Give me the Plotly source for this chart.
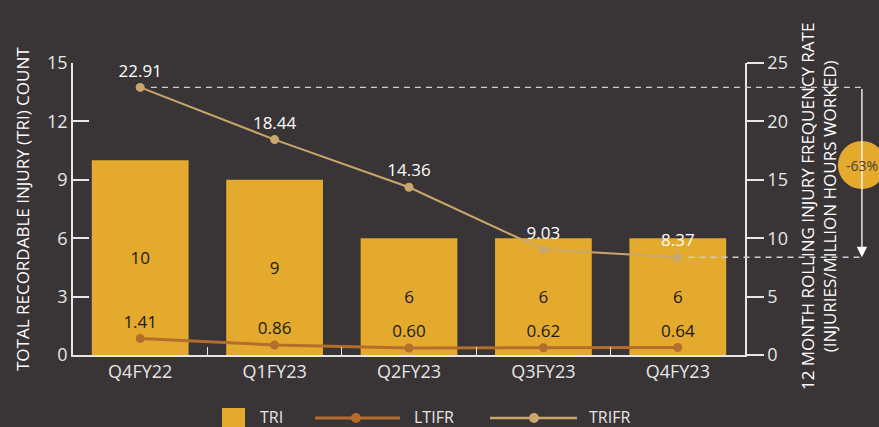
import plotly.graph_objects as go

categories = ["Q4FY22", "Q1FY23", "Q2FY23", "Q3FY23", "Q4FY23"]
tri = [10, 9, 6, 6, 6]
ltifr = [1.41, 0.86, 0.60, 0.62, 0.64]
trifr = [22.91, 18.44, 14.36, 9.03, 8.37]
left_ticks = [0, 3, 6, 9, 12, 15]
right_ticks = [0, 5, 10, 15, 20, 25]
series_names = ["TRI", "LTIFR", "TRIFR"]
change_label = "-63%"

BG = "#393536"
BAR = "#E4AA2D"
TAN = "#C9A76C"
RUST = "#B56D2C"
AX = "#E6E6E6"
FONT = "Open Sans"

fig = go.Figure()
fig.add_trace(go.Bar(
    x=categories, y=tri, name=series_names[0], marker_color=BAR, marker_line_width=0,
    text=[str(v) for v in tri], textposition="inside", insidetextanchor="middle",
    textfont=dict(color="#1a1a1a", size=17, family=FONT), yaxis="y",
))
fig.add_trace(go.Scatter(
    x=categories, y=ltifr, name=series_names[1], mode="lines+markers+text", yaxis="y2",
    line=dict(color=RUST, width=3), marker=dict(color=RUST, size=9),
    text=[f"{v:.2f}" for v in ltifr], textposition="top center",
    textfont=dict(color="#1a1a1a", size=17, family=FONT), cliponaxis=False,
))
fig.add_trace(go.Scatter(
    x=categories, y=trifr, name=series_names[2], mode="lines+markers+text", yaxis="y2",
    line=dict(color=TAN, width=2), marker=dict(color=TAN, size=9),
    text=[f"{v:.2f}" for v in trifr], textposition="top center",
    textfont=dict(color="white", size=17, family=FONT), cliponaxis=False,
))

n = len(categories)
ymax2 = right_ticks[-1]
arrow_x = 1.174
mid_y = (trifr[0] + trifr[-1]) / 2 / ymax2 + 0.025
shapes = [
    dict(type="line", xref="paper", yref="paper",
         x0=(0.5 + 0.08) / n, x1=arrow_x, y0=trifr[0] / ymax2, y1=trifr[0] / ymax2,
         line=dict(color="#CFCFCF", width=1.3, dash="6px,5px")),
    dict(type="line", xref="paper", yref="paper",
         x0=(n - 0.5 + 0.08) / n, x1=arrow_x, y0=trifr[-1] / ymax2, y1=trifr[-1] / ymax2,
         line=dict(color="#CFCFCF", width=1.3, dash="6px,5px")),
    dict(type="circle", xref="paper", yref="paper", xsizemode="pixel", ysizemode="pixel",
         xanchor=arrow_x, yanchor=mid_y,
         x0=-24, x1=24, y0=-24, y1=24, fillcolor=BAR, line=dict(width=0), layer="above"),
]

# manual legend (below the plot)
leg_y = -0.216
shapes += [
    dict(type="rect", xref="paper", yref="paper", x0=0.2217, x1=0.256, y0=-0.1815, y1=-0.26,
         fillcolor=BAR, line=dict(width=0)),
    dict(type="line", xref="paper", yref="paper", x0=0.360, x1=0.4866, y0=leg_y, y1=leg_y,
         line=dict(color=RUST, width=3)),
    dict(type="circle", xref="paper", yref="paper", xsizemode="pixel", ysizemode="pixel",
         xanchor=0.421, yanchor=leg_y, x0=-5, x1=5, y0=-5, y1=5,
         fillcolor=RUST, line=dict(width=0)),
    dict(type="line", xref="paper", yref="paper", x0=0.6205, x1=0.75, y0=leg_y, y1=leg_y,
         line=dict(color=TAN, width=2.5)),
    dict(type="circle", xref="paper", yref="paper", xsizemode="pixel", ysizemode="pixel",
         xanchor=0.686, yanchor=leg_y, x0=-5, x1=5, y0=-5, y1=5,
         fillcolor=TAN, line=dict(width=0)),
]

annotations = [
    dict(xref="paper", yref="y2", x=arrow_x, y=trifr[-1], axref="pixel", ayref="y2",
         ax=0, ay=trifr[0], showarrow=True, arrowhead=2, arrowsize=1.6, arrowwidth=1.3,
         arrowcolor="white", text=""),
    dict(xref="paper", yref="paper", x=arrow_x, y=mid_y, text=change_label, showarrow=False,
         font=dict(color="#4a4037", size=14, family=FONT), xanchor="center", yanchor="middle"),
    dict(xref="paper", yref="paper", x=-0.0759, y=0.5, text="TOTAL RECORDABLE INJURY (TRI) COUNT",
         textangle=-90, showarrow=False, font=dict(color="white", size=17, family=FONT),
         xanchor="center", yanchor="middle"),
    dict(xref="paper", yref="paper", x=1.1086, y=0.51,
         text="12 MONTH ROLLING INJURY FREQUENCY RATE<br>(INJURIES/MILLION HOURS WORKED)",
         textangle=-90, showarrow=False, font=dict(color="white", size=17, family=FONT),
         xanchor="center", yanchor="middle"),
]
for name, xl in zip(series_names, [0.2753, 0.5045, 0.765]):
    annotations.append(dict(xref="paper", yref="paper", x=xl, y=leg_y + 0.004, text=name,
                            showarrow=False, xanchor="left", yanchor="middle",
                            font=dict(color=AX, size=16, family=FONT)))

fig.update_layout(
    width=879, height=427,
    paper_bgcolor=BG, plot_bgcolor=BG,
    margin=dict(l=73, r=134, t=63, b=72, autoexpand=False),
    font=dict(family=FONT, color=AX, size=16),
    bargap=0.28,
    showlegend=False,
    xaxis=dict(type="category", showline=True, linecolor=AX, linewidth=1.5,
               ticks="inside", tickson="boundaries", ticklen=8, tickcolor=AX,
               tickfont=dict(size=18, color=AX), showgrid=False, zeroline=False,
               range=[-0.5, n - 0.5], automargin=False),
    yaxis=dict(range=[0, left_ticks[-1]], tickvals=left_ticks, showline=True, linecolor=AX,
               linewidth=1.5, ticks="inside", ticklen=16, tickcolor=AX, tickwidth=1.5,
               tickfont=dict(size=18, color=AX), showgrid=False, zeroline=False,
               automargin=False),
    yaxis2=dict(range=[0, ymax2], tickvals=right_ticks, overlaying="y", side="right",
                showline=True, linecolor=AX, linewidth=1.5, ticks="outside", ticklen=17,
                tickcolor=AX, tickwidth=1.5, tickfont=dict(size=18, color=AX),
                showgrid=False, zeroline=False, automargin=False),
    shapes=shapes,
    annotations=annotations,
)

fig.write_html("out.html", config={"displayModeBar": False},
               post_script="document.body.style.margin='0';document.body.style.background='%s';" % BG)
